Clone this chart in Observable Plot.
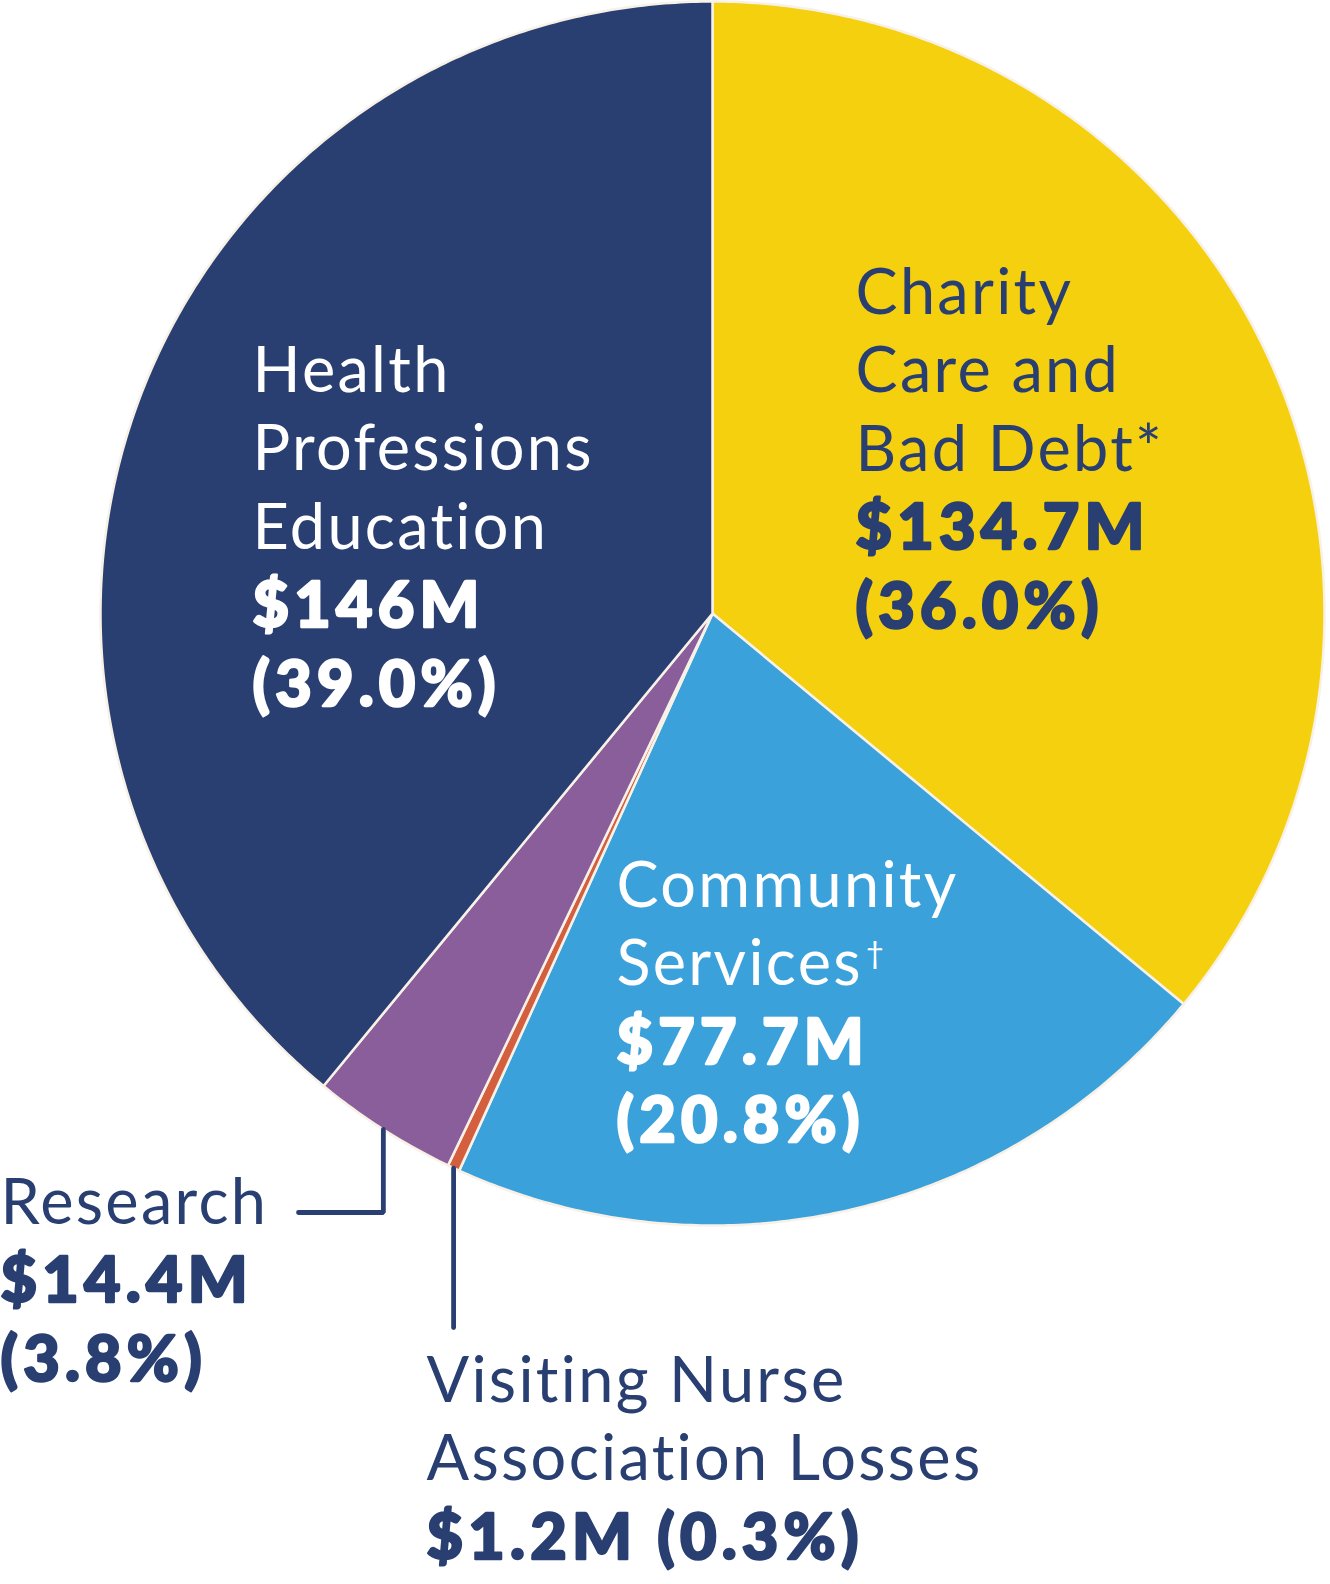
<!DOCTYPE html>
<html><head><meta charset="utf-8">
<script src="https://cdn.jsdelivr.net/npm/d3@7"></script>
<script src="https://cdn.jsdelivr.net/npm/@observablehq/plot@0.6"></script>
<style>
html,body{margin:0;padding:0;background:#fff;}
#chart svg{display:block;font-variant-ligatures:none;font-feature-settings:"liga" 0;}
</style></head><body><div id="chart"></div>
<script>
// ---- data ----
const categories = ["Charity Care and Bad Debt*", "Community Services†", "Visiting Nurse Association Losses", "Research", "Health Professions Education"];
const values = [134.7, 77.7, 1.2, 14.4, 146];
const valueLabels = ["$134.7M", "$77.7M", "$1.2M", "$14.4M", "$146M"];
const percentLabels = ["(36.0%)", "(20.8%)", "(0.3%)", "(3.8%)", "(39.0%)"];
const nameLines = [["Charity", "Care and", "Bad Debt*"], ["Community", "Services†"], ["Visiting Nurse", "Association Losses"], ["Research"], ["Health", "Professions", "Education"]];

// ---- styles & layout ----
const colors = ["#F4D00E", "#3BA1DB", "#D45F3E", "#8A5E9B", "#293F71"];
const NAVY = "#293F71";
const W = 1330, H = 1584, CX = 712, CY = 613, R = 612;
const FS = 63, LH = 78.5;
const labelLayout = [
  {x: 855, y: 313, light: false, joinBold: false},
  {x: 616, y: 906, light: true, joinBold: false},
  {x: 426, y: 1401, light: false, joinBold: true},
  {x: 0, y: 1223, light: false, joinBold: false},
  {x: 252, y: 391, light: true, joinBold: false}
];
const leaderLayout = {3: {toY: 1212, toX: 298}, 2: {toY: 1327}};
const ux = px => (px - CX) / R;
const uy = py => (CY - py) / R;

// ---- pie geometry from data ----
const arcs = d3.pie().sort(null).value(d => d)(values);
const slicePts = [];
arcs.forEach((p, i) => {
  const n = Math.max(2, Math.ceil((p.endAngle - p.startAngle) / (Math.PI / 360)));
  slicePts.push({cat: i, ux: 0, uy: 0});
  for (let k = 0; k <= n; k++) {
    const a = p.startAngle + (p.endAngle - p.startAngle) * k / n;
    slicePts.push({cat: i, ux: Math.sin(a), uy: Math.cos(a)});
  }
  slicePts.push({cat: i, ux: 0, uy: 0});
});

// leader lines
const leaderPts = [];
Object.entries(leaderLayout).forEach(([k, L]) => {
  const i = +k, p = arcs[i];
  const mid = (p.startAngle + p.endAngle) / 2;
  const sx = Math.sin(mid), sy = Math.cos(mid);
  leaderPts.push({cat: i, ux: sx, uy: sy});
  leaderPts.push({cat: i, ux: sx, uy: uy(L.toY)});
  if (L.toX !== undefined) leaderPts.push({cat: i, ux: ux(L.toX), uy: uy(L.toY)});
});

// text lines
const lines = [];
categories.forEach((c, i) => {
  const L = labelLayout[i];
  let row = 0;
  nameLines[i].forEach(t => lines.push({t, bold: false, light: L.light, ux: ux(L.x), uy: uy(L.y + LH * row++)}));
  if (L.joinBold) {
    lines.push({t: valueLabels[i] + " " + percentLabels[i], bold: true, light: L.light, ux: ux(L.x), uy: uy(L.y + LH * row++)});
  } else {
    lines.push({t: valueLabels[i], bold: true, light: L.light, ux: ux(L.x), uy: uy(L.y + LH * row++)});
    lines.push({t: percentLabels[i], bold: true, light: L.light, ux: ux(L.x), uy: uy(L.y + LH * row++)});
  }
});

const textMark = (bold, light) => {
  const c = light ? "#ffffff" : NAVY;
  return Plot.text(lines.filter(d => d.bold === bold && d.light === light), {
    x: "ux", y: "uy", text: "t", textAnchor: "start", lineAnchor: "bottom",
    fill: c, fontSize: FS, fontWeight: bold ? 900 : 400, fontFamily: "Lato",
    ...(bold ? {stroke: c, strokeWidth: 2.4} : {}),
    className: bold ? "lbl-bold" : "lbl-reg"
  });
};

const chart = Plot.plot({
  width: W, height: H,
  margin: 0,
  style: {background: "#ffffff", fontFamily: "Lato"},
  x: {domain: [-1, 1], range: [CX - R, CX + R], axis: null},
  y: {domain: [-1, 1], range: [CY + R, CY - R], axis: null},
  color: {type: "ordinal", domain: d3.range(categories.length), range: colors},
  marks: [
    Plot.line(slicePts, {x: "ux", y: "uy", z: "cat", fill: "cat", stroke: "#F7F1E7", strokeWidth: 2.5, strokeLinejoin: "round", curve: "linear"}),
    Plot.line(leaderPts, {x: "ux", y: "uy", z: "cat", stroke: NAVY, strokeWidth: 4.8, strokeLinejoin: "miter", curve: "linear"}),
    textMark(false, false), textMark(false, true),
    textMark(true, false), textMark(true, true)
  ]
});
document.getElementById("chart").appendChild(chart);

// letter spacing to approximate the wider original face
d3.select(chart).selectAll(".lbl-reg text").attr("letter-spacing", "2.3px");
d3.select(chart).selectAll(".lbl-bold text").attr("letter-spacing", "5.2px");
// superscript dagger
d3.select(chart).selectAll("text").each(function () {
  const s = this.textContent;
  if (s.endsWith("†")) {
    this.textContent = s.slice(0, -1);
    d3.select(this).append("tspan").attr("font-size", "50%").attr("dy", "-21px").attr("dx", "3px").text("†");
  }
});
</script>
</body></html>
